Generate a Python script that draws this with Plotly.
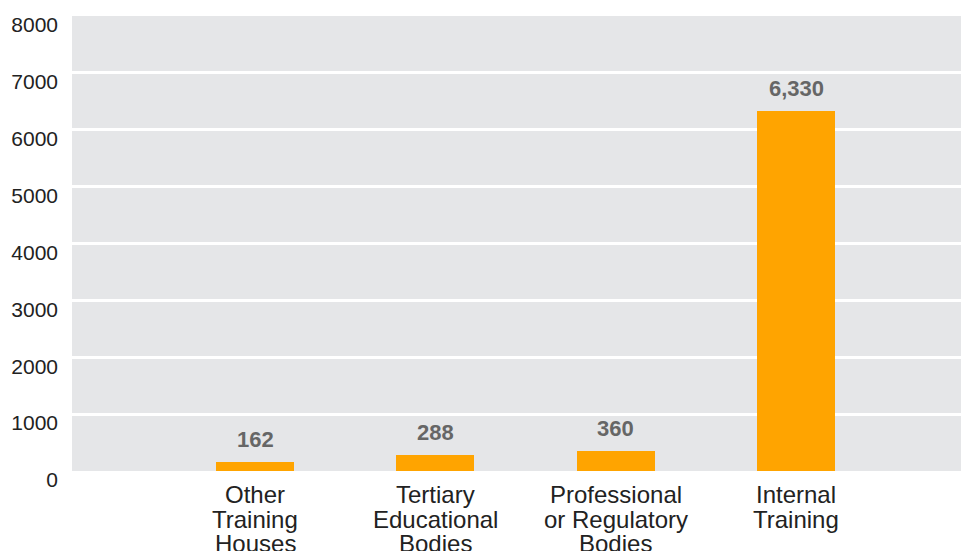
import plotly.graph_objects as go

categories = ["Other Training Houses", "Tertiary Educational Bodies",
              "Professional or Regulatory Bodies", "Internal Training"]
category_lines = [["Other", "Training", "Houses"],
                  ["Tertiary", "Educational", "Bodies"],
                  ["Professional", "or Regulatory", "Bodies"],
                  ["Internal", "Training"]]
values = [162, 288, 360, 6330]
value_labels = ["162", "288", "360", "6,330"]
y_ticks = [0, 1000, 2000, 3000, 4000, 5000, 6000, 7000, 8000]

fig = go.Figure()
fig.add_trace(go.Bar(
    x=categories, y=values, width=0.433,
    marker=dict(color="#FFA400", line=dict(width=0)),
    hoverinfo="skip",
))

# value labels above bars
for c, v, t in zip(categories, values, value_labels):
    fig.add_annotation(
        x=c, y=v, text="<b>" + t + "</b>", showarrow=False,
        yanchor="middle", yshift=22,
        font=dict(family="Liberation Sans, Arial, sans-serif", size=22, color="#666666"),
    )

# category labels (one line per annotation for tight line spacing)
for c, lines in zip(categories, category_lines):
    for j, line in enumerate(lines):
        fig.add_annotation(
            x=c, y=0, text=line, showarrow=False,
            yanchor="middle", yshift=-(23.5 + 24.5 * j),
            font=dict(family="Liberation Sans, Arial, sans-serif", size=24, color="#222222"),
        )

fig.update_layout(
    width=961, height=551,
    margin=dict(l=72, r=0, t=16, b=80),
    paper_bgcolor="white",
    plot_bgcolor="#e5e6e8",
    showlegend=False,
    bargap=0,
    font=dict(family="Liberation Sans, Arial, sans-serif", size=21, color="#222222"),
)
fig.update_xaxes(
    type="category", range=[-1.015, 3.915],
    showgrid=False, zeroline=False, showline=False, ticks="",
    showticklabels=False,
)
fig.update_yaxes(
    range=[0, 8000], tickvals=y_ticks, ticktext=[str(v) for v in y_ticks],
    showgrid=True, gridcolor="white", gridwidth=2.5,
    zeroline=False, showline=False, ticks="",
    tickfont=dict(size=21, color="#222222"),
    ticklabelstandoff=13, ticklabelshift=9,
)

fig.write_html("out.html",
               config={"displayModeBar": False},
               post_script="document.body.style.margin='0';document.body.style.overflow='hidden';")
